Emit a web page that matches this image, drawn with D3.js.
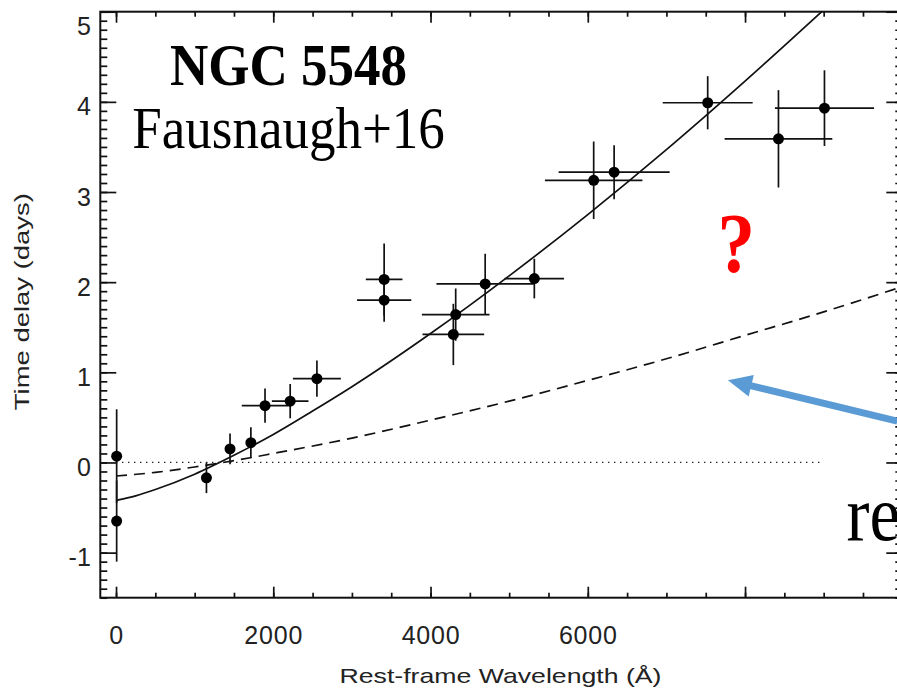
<!DOCTYPE html>
<html lang="en">
<head>
<meta charset="UTF-8">
<title>NGC 5548 lag spectrum</title>
<script src="https://d3js.org/d3.v7.min.js"></script>
<style>
    body { margin: 0; background: #fff; }
    svg { display: block; }
    .tick text { font-family: "Liberation Sans", Arial, Helvetica, sans-serif; fill: #222; }
    .axis-label { font-family: "Liberation Sans", Arial, Helvetica, sans-serif; fill: #222; }
    .serif { font-family: "Liberation Serif", "Times New Roman", Times, serif; }
</style>
</head>
<body>
<svg id="chart" width="897" height="691"></svg>
<script>
// measured lags (wavelength in A, lag in days)
const wave    = [8, 8, 1150, 1450, 1715, 1895, 2215, 2555, 3410, 3410, 4320, 4290, 4695, 5320, 6075, 6335, 7525, 8425, 9010];
const waveErr = [0, 0, 0, 0, 0, 296, 233, 305, 233, 345, 430, 392, 620, 378, 620, 706, 572, 685, 630];
const lag     = [0.07, -0.65, -0.17, 0.15, 0.22, 0.63, 0.68, 0.93, 2.03, 1.80, 1.64, 1.42, 1.98, 2.04, 3.13, 3.22, 3.99, 3.59, 3.93];
const lagErr  = [0.52, 0.45, 0.17, 0.17, 0.17, 0.19, 0.19, 0.20, 0.40, 0.24, 0.29, 0.34, 0.335, 0.22, 0.43, 0.30, 0.295, 0.54, 0.42];

// best fit (solid) and thin disk (dashed) curves
const fitWave = [0, 250, 500, 1000, 1500, 2000, 2500, 3000, 4000, 5000, 6000, 7000, 8000, 9000];
const fitLag  = [-0.42, -0.37, -0.30, -0.13, 0.08, 0.31, 0.57, 0.84, 1.43, 2.07, 2.75, 3.47, 4.23, 5.02];
const diskWave = [0, 500, 1000, 1500, 2000, 3000, 4000, 5000, 6000, 7000, 8000, 9000, 10000];
const diskLag  = [-0.15, -0.11, -0.05, 0.02, 0.10, 0.27, 0.47, 0.68, 0.91, 1.15, 1.41, 1.67, 1.95];
const zeroWave = [0, 9000];

// ticks
const xMajor = [0, 2000, 4000, 6000, 8000, 10000];
const xMinor = d3.range(0, 10001, 500);
const xLabels = [0, 2000, 4000, 6000];
const yMajor = [-1, 0, 1, 2, 3, 4, 5];
const yMinor = d3.range(-15, 51).map(d => d / 10);

const svg = d3.select("#chart");

const plotL = 100.3, plotR = 902.3, plotT = 11.7, plotB = 597.7;
const x = d3.scaleLinear().domain([-200, 10000]).range([plotL, plotR]);
const y = d3.scaleLinear().domain([-1.5, 5]).range([plotB, plotT]);

svg.append("defs").append("clipPath").attr("id", "plotClip")
    .append("rect")
    .attr("x", plotL).attr("y", plotT)
    .attr("width", plotR - plotL).attr("height", plotB - plotT);

// axes: ticks point inward on all four sides
function tickAxis(axis, pos, values, size, labels, cls) {
    const g = svg.append("g")
        .attr("class", cls)
        .attr("transform", pos)
        .call(axis.tickValues(values).tickSizeInner(-size).tickSizeOuter(0)
            .tickFormat(labels ? (d => labels.includes(d) ? d : "") : ""));
    g.select(".domain").remove();
    g.selectAll(".tick line").attr("stroke", "#111").attr("stroke-width", 1.7);
    return g;
}

const xb = tickAxis(d3.axisBottom(x).tickPadding(29), `translate(0,${plotB})`, xMajor, 11, xLabels, "x-axis");
xb.selectAll("text").style("font-size", "25px").style("letter-spacing", "0.8px");
tickAxis(d3.axisBottom(x), `translate(0,${plotB})`, xMinor, 5, null, "x-minor");
tickAxis(d3.axisTop(x), `translate(0,${plotT})`, xMajor, 11, null, "x-top");
tickAxis(d3.axisTop(x), `translate(0,${plotT})`, xMinor, 5, null, "x-top-minor");

const yl = tickAxis(d3.axisLeft(y).tickPadding(9.5), `translate(${plotL},0)`, yMajor, 16, yMajor, "y-axis");
yl.selectAll("text").style("font-size", "25px")
    .attr("dy", d => d === 5 ? "0.92em" : "0.52em");
tickAxis(d3.axisLeft(y), `translate(${plotL},0)`, yMinor, 7, null, "y-minor");
tickAxis(d3.axisRight(y), `translate(${plotR},0)`, yMajor, 16, null, "y-right");
tickAxis(d3.axisRight(y), `translate(${plotR},0)`, yMinor, 7, null, "y-right-minor");

// frame
svg.append("rect")
    .attr("x", plotL).attr("y", plotT)
    .attr("width", plotR - plotL).attr("height", plotB - plotT)
    .attr("fill", "none").attr("stroke", "#111").attr("stroke-width", 2);

// axis titles
svg.append("text")
    .attr("class", "axis-label")
    .attr("x", 500.5).attr("y", 682.7)
    .attr("text-anchor", "middle")
    .attr("textLength", 322).attr("lengthAdjust", "spacingAndGlyphs")
    .style("font-size", "21px")
    .text("Rest-frame Wavelength (\u00C5)");

svg.append("text")
    .attr("class", "axis-label")
    .attr("transform", "translate(29,301.7) rotate(-90)")
    .attr("text-anchor", "middle")
    .attr("textLength", 217).attr("lengthAdjust", "spacingAndGlyphs")
    .style("font-size", "20px")
    .text("Time delay (days)");

// curves
const line = d3.line().x(d => x(d[0])).y(d => y(d[1])).curve(d3.curveMonotoneX);
const curves = svg.append("g").attr("clip-path", "url(#plotClip)");

curves.append("path")
    .datum(zeroWave.map(w => [w, 0]))
    .attr("d", line)
    .attr("fill", "none").attr("stroke", "#222").attr("stroke-width", 1.3)
    .attr("stroke-dasharray", "1.4,4.6");

curves.append("path")
    .datum(diskWave.map((w, i) => [w, diskLag[i]]))
    .attr("d", line)
    .attr("fill", "none").attr("stroke", "#111").attr("stroke-width", 1.7)
    .attr("stroke-dasharray", "11,7");

curves.append("path")
    .datum(fitWave.map((w, i) => [w, fitLag[i]]))
    .attr("d", line)
    .attr("fill", "none").attr("stroke", "#111").attr("stroke-width", 1.7);

// data points with error bars
const pts = wave.map((w, i) => ({ w, we: waveErr[i], t: lag[i], te: lagErr[i] }));
const pg = svg.append("g");
pg.selectAll(".ybar").data(pts).join("line")
    .attr("class", "ybar")
    .attr("x1", d => x(d.w)).attr("x2", d => x(d.w))
    .attr("y1", d => y(d.t - d.te)).attr("y2", d => y(d.t + d.te))
    .attr("stroke", "#111").attr("stroke-width", 1.7);
pg.selectAll(".xbar").data(pts.filter(d => d.we > 0)).join("line")
    .attr("class", "xbar")
    .attr("x1", d => x(d.w - d.we)).attr("x2", d => x(d.w + d.we))
    .attr("y1", d => y(d.t)).attr("y2", d => y(d.t))
    .attr("stroke", "#111").attr("stroke-width", 1.7);
pg.selectAll("circle").data(pts).join("circle")
    .attr("cx", d => x(d.w)).attr("cy", d => y(d.t))
    .attr("r", 5.5).attr("fill", "#000");

// annotations (positions in data units)
function serifText(w, t, size, txt, opts) {
    return svg.append("text")
        .attr("class", "serif")
        .attr("transform", `translate(${x(w)},${y(t)}) scale(1,1.13)`)
        .attr("text-anchor", opts.anchor || "middle")
        .style("font-size", size + "px")
        .style("font-weight", opts.bold ? "bold" : "normal")
        .attr("fill", opts.color || "#000")
        .text(txt);
}
serifText(2194, 4.185, 53, "NGC 5548", { bold: true });
serifText(2194, 3.483, 53, "Fausnaugh+16", {});
serifText(7888, 2.11, 75, "?", { bold: true, color: "#f00" });
serifText(9290, -0.862, 69, "re", { anchor: "start" });

// blue arrow
const arrowFrom = [9936, 0.458], arrowTo = [7782, 0.913];
const ax0 = x(arrowFrom[0]), ay0 = y(arrowFrom[1]);
const ax1 = x(arrowTo[0]), ay1 = y(arrowTo[1]);
const len = Math.hypot(ax1 - ax0, ay1 - ay0);
const ux = (ax1 - ax0) / len, uy = (ay1 - ay0) / len;
const headLen = 24, headHalf = 11;
svg.append("line")
    .attr("x1", ax0).attr("y1", ay0)
    .attr("x2", ax1 - ux * (headLen - 4)).attr("y2", ay1 - uy * (headLen - 4))
    .attr("stroke", "#5b9bd5").attr("stroke-width", 7);
const bx = ax1 - ux * headLen, by = ay1 - uy * headLen;
svg.append("path")
    .attr("d", `M${ax1},${ay1}L${bx - uy * headHalf},${by + ux * headHalf}L${bx + uy * headHalf},${by - ux * headHalf}Z`)
    .attr("fill", "#5b9bd5");
</script>
</body>
</html>
